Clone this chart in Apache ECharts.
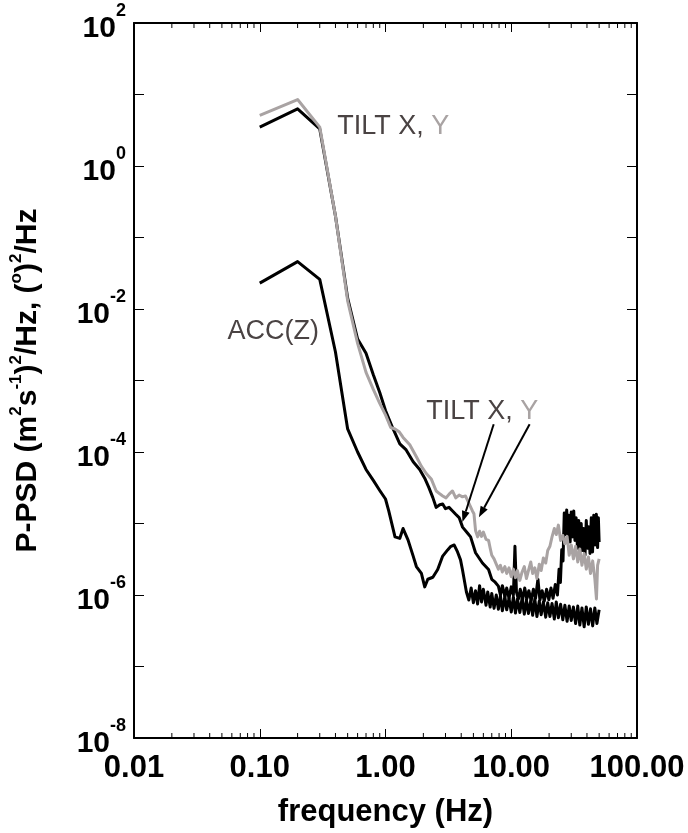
<!DOCTYPE html>
<html>
<head>
<meta charset="utf-8">
<script src="https://cdn.jsdelivr.net/npm/echarts@6/dist/echarts.min.js"></script>
<style>
	html, body { margin: 0; padding: 0; background: #fff; }
	#chart { width: 688px; height: 833px; }
</style>
</head>
<body>
<div id="chart"></div>
<script>
// values (frequency in Hz, PSD)
const tiltXFreq = [0.1, 0.2, 0.3, 0.4, 0.5, 0.6, 0.7, 0.8, 0.9, 1.0, 1.15, 1.3, 1.46, 1.66, 1.87, 2.05, 2.21, 2.38, 2.53, 2.7, 2.85, 3.0, 3.2, 3.4, 3.6, 3.85, 4.1, 4.5, 4.75, 5.2, 5.9, 6.6, 7.0, 7.45,
	7.9, 8.2, 8.5, 8.9, 9.2, 9.6, 10.0, 10.4, 10.7, 11.0, 11.4, 11.8, 12.3, 12.8, 13.3, 13.8, 14.4, 15.0, 15.6, 16.3, 16.9, 17.6, 18.3, 19.1, 19.9, 20.7, 21.5, 22.4, 23.3, 24.0, 24.6, 25.2, 25.8, 26.4, 27.0,
	27.6, 28.2, 28.8, 29.4, 30.0, 30.7, 31.4, 32.1, 32.8, 33.6, 34.4, 35.2, 36.0, 36.8, 37.7, 38.6, 39.5, 40.4, 41.3, 42.3, 43.3, 44.3, 45.3, 46.4, 47.5, 48.6, 49.3, 50.0]
const tiltXPsd = [3.5, 6.3, 3.3, 0.2, 0.0142, 0.0038, 0.0024, 0.0012, 6.8e-4, 3.8e-4, 2.1e-4, 1.3e-4, 1.07e-4, 7.3e-5, 5.7e-5, 4.3e-5, 3.2e-5, 2.3e-5, 1.68e-5, 1.83e-5, 1.87e-5, 1.61e-5, 1.68e-5, 1.51e-5, 1.36e-5, 1.21e-5, 8.9e-6, 7.3e-6, 6.5e-6, 3.9e-6, 2.8e-6, 2.27e-6, 1.66e-6, 1.51e-6,
	1.33e-6, 1.0e-6, 1.35e-6, 9.5e-7, 1.25e-6, 9.0e-7, 1.3e-6, 1.0e-6, 4.8e-6, 1.1e-6, 8.8e-7, 1.2e-6, 8.5e-7, 1.25e-6, 8.8e-7, 1.15e-6, 8.3e-7, 1.2e-6, 9.0e-7, 1.66e-6, 8.5e-7, 1.15e-6, 8.2e-7, 1.2e-6, 8.6e-7, 1.25e-6, 9.0e-7, 1.4e-6, 1.0e-6, 2.3e-6, 1.5e-6, 4.3e-6, 3.0e-6, 1.4e-5, 7.0e-6,
	1.55e-5, 6.0e-6, 1.3e-5, 5.5e-6, 1.45e-5, 6.5e-6, 1.5e-5, 5.8e-6, 1.2e-5, 4.5e-6, 1.1e-5, 4.0e-6, 1.0e-5, 4.2e-6, 8.5e-6, 3.6e-6, 1.1e-5, 4.5e-6, 9.0e-6, 3.8e-6, 1.2e-5, 4.0e-6, 1.3e-5, 5.0e-6, 1.35e-5, 4.6e-6, 1.2e-5, 5.5e-6]

const tiltYFreq = [0.1, 0.2, 0.3, 0.4, 0.5, 0.6, 0.7, 0.8, 0.9, 1.0, 1.1, 1.19, 1.29, 1.38, 1.56, 1.76, 1.93, 2.11, 2.31, 2.53, 2.7, 2.85, 3.03, 3.22, 3.41, 3.62, 3.85, 4.09, 4.32, 4.62, 4.9, 5.05,
	5.2, 5.4, 5.6, 5.8, 6.0, 6.3, 6.6, 6.8, 7.0, 7.3, 7.6, 7.9, 8.2, 8.5, 8.9, 9.2, 9.6, 10.0, 10.4, 10.8, 11.2, 11.7, 12.2, 12.7, 13.2, 13.7, 14.3, 14.8, 15.4, 16.0,
	16.7, 17.3, 18.0, 18.8, 19.5, 20.3, 21.1, 22.0, 22.8, 23.7, 24.7, 25.7, 26.7, 27.8, 28.9, 30.0, 31.2, 32.5, 33.8, 35.1, 36.5, 38.0, 39.5, 41.1, 42.7, 44.4, 46.2, 47.6, 48.6, 50.0]
const tiltYPsd = [5.1, 8.5, 3.5, 0.2, 0.013, 0.0033, 1.3e-3, 7.5e-4, 4.8e-4, 3.3e-4, 2.2e-4, 2.1e-4, 1.9e-4, 1.6e-4, 1.26e-4, 8.6e-5, 6.3e-5, 5.0e-5, 4.2e-5, 2.85e-5, 2.6e-5, 2.43e-5, 2.28e-5, 2.6e-5, 2.85e-5, 2.28e-5, 2.5e-5, 2.36e-5, 2.43e-5, 1.89e-5, 1.51e-5, 1.37e-5,
	8.0e-6, 6.5e-6, 7.8e-6, 6.6e-6, 7.6e-6, 6.0e-6, 5.8e-6, 4.5e-6, 3.6e-6, 3.2e-6, 2.7e-6, 2.3e-6, 2.6e-6, 2.1e-6, 2.5e-6, 2.0e-6, 2.4e-6, 1.8e-6, 2.3e-6, 1.75e-6, 2.2e-6, 1.6e-6, 2.1e-6, 2.5e-6, 1.7e-6, 2.2e-6, 2.9e-6, 2.0e-6, 2.4e-6, 1.7e-6,
	2.7e-6, 2.2e-6, 3.3e-6, 2.8e-6, 4.2e-6, 4.8e-6, 6.5e-6, 8.5e-6, 7.0e-6, 9.5e-6, 5.8e-6, 6.8e-6, 5.2e-6, 6.6e-6, 3.6e-6, 5.0e-6, 3.2e-6, 4.8e-6, 2.9e-6, 4.4e-6, 2.6e-6, 3.8e-6, 2.3e-6, 3.4e-6, 2.0e-6, 3.0e-6, 1.7e-6, 8.8e-7, 2.6e-6, 3.2e-6]

const accFreq = [0.1, 0.2, 0.3, 0.4, 0.5, 0.6, 0.7, 0.8, 0.9, 1.0, 1.06, 1.19, 1.3, 1.38, 1.51, 1.66, 1.76, 1.93, 2.05, 2.17, 2.38, 2.6, 2.85, 3.12, 3.31, 3.52, 3.74, 3.95, 4.09,
	4.4, 4.6, 4.8, 5.0, 5.2, 5.4, 5.6, 5.8, 6.0, 6.3, 6.5, 6.8, 7.0, 7.3, 7.6, 7.9, 8.2, 8.5, 8.9, 9.2, 9.6, 10.0, 10.4, 10.8, 11.2, 11.7, 12.2, 12.7, 13.2, 13.7, 14.3, 14.8,
	15.4, 16.0, 16.7, 17.3, 18.0, 18.8, 19.5, 20.3, 21.1, 22.0, 22.8, 23.7, 24.7, 25.7, 26.7, 27.8, 28.9, 30.0, 31.2, 32.5, 33.8, 35.1, 36.5, 38.0, 39.5, 41.1, 42.7, 44.4, 46.2, 48.0, 50.0]
const accPsd = [0.023, 0.046, 0.026, 2.5e-3, 2.1e-4, 1.0e-4, 5.7e-5, 4.0e-5, 2.9e-5, 2.2e-5, 1.51e-5, 6.5e-6, 6.2e-6, 8.5e-6, 5.9e-6, 3.5e-6, 2.5e-6, 2.0e-6, 1.3e-6, 1.66e-6, 1.77e-6, 2.27e-6, 3.5e-6, 4.27e-6, 4.8e-6, 5.0e-6, 4.0e-6, 3.1e-6, 2.27e-6,
	1.1e-6, 8.5e-7, 1.25e-6, 7.8e-7, 1.15e-6, 7.5e-7, 1.35e-6, 8.0e-7, 1.2e-6, 7.2e-7, 1.1e-6, 6.8e-7, 1.05e-6, 6.5e-7, 1.0e-6, 6.3e-7, 9.8e-7, 6.0e-7, 9.5e-7, 6.2e-7, 9.0e-7, 5.8e-7, 9.4e-7, 5.6e-7, 8.8e-7, 5.7e-7, 9.0e-7, 5.4e-7, 8.6e-7, 5.5e-7, 8.4e-7, 5.2e-7,
	8.8e-7, 5.0e-7, 8.2e-7, 5.3e-7, 8.0e-7, 4.9e-7, 7.8e-7, 5.0e-7, 7.6e-7, 4.6e-7, 8.0e-7, 4.8e-7, 7.4e-7, 4.5e-7, 7.2e-7, 4.3e-7, 7.0e-7, 4.4e-7, 6.8e-7, 4.0e-7, 7.0e-7, 3.8e-7, 6.6e-7, 3.6e-7, 6.8e-7, 3.9e-7, 6.4e-7, 3.7e-7, 6.6e-7, 4.0e-7, 6.2e-7]

// minor ticks of the frequency axis (2..9 in every decade)
const minorTickFreqs = [0.02, 0.03, 0.04, 0.05, 0.06, 0.07, 0.08, 0.09, 0.2, 0.3, 0.4, 0.5, 0.6, 0.7, 0.8, 0.9, 2, 3, 4, 5, 6, 7, 8, 9, 20, 30, 40, 50, 60, 70, 80, 90]

const FONT = '"Liberation Sans", Arial, Helvetica, sans-serif'
const GREY = '#a9a3a3'
const DARK = '#4a4343'

const pairs = function(xs, ys) {
	return xs.map(function(x, i) { return [x, ys[i]] })
}

const lineSeries = function(name, xs, ys, color) {
	return {
		name: name,
		type: 'line',
		data: pairs(xs, ys),
		showSymbol: false,
		symbol: 'none',
		lineStyle: { color: color, width: 3, join: 'round' },
		itemStyle: { color: color },
		z: 3
	}
}

const supRich = function(size) {
	return {
		b: { fontSize: size, fontWeight: 'bold', fontFamily: FONT, color: '#000', lineHeight: size + 12, verticalAlign: 'bottom' },
		s: { fontSize: Math.round(size * 0.6), fontWeight: 'bold', fontFamily: FONT, color: '#000', verticalAlign: 'top', lineHeight: Math.round(size * 0.6) + 2 }
	}
}

const xBase = {
	type: 'log',
	logBase: 10,
	min: 0.01,
	max: 100,
	interval: 1,
	splitLine: { show: false },
	axisLine: { show: true, lineStyle: { color: '#000', width: 2 } },
	axisTick: { show: true, inside: true, length: 9, lineStyle: { color: '#000', width: 1 } }
}

const yBase = {
	type: 'log',
	logBase: 10,
	min: 1e-8,
	max: 100,
	interval: 1,
	splitLine: { show: false },
	axisLine: { show: true, lineStyle: { color: '#000', width: 2 } },
	axisTick: { show: true, inside: true, length: 10, lineStyle: { color: '#000', width: 1 } }
}

const option = {
	animation: false,
	backgroundColor: '#fff',
	grid: { left: 127, top: 23, width: 510, height: 729, containLabel: false },
	xAxis: [
		Object.assign({}, xBase, {
			position: 'bottom',
			name: 'frequency (Hz)',
			nameLocation: 'middle',
			nameGap: 59,
			nameTextStyle: { fontSize: 31, fontWeight: 'bold', fontFamily: FONT, color: '#000' },
			axisLabel: {
				show: true,
				margin: 15,
				fontSize: 31,
				fontWeight: 'bold',
				fontFamily: FONT,
				color: '#000',
				showMinLabel: true,
				showMaxLabel: true,
				hideOverlap: false,
				formatter: function(v) { return Number(v).toFixed(2) }
			}
		}),
		Object.assign({}, xBase, { position: 'top', axisLabel: { show: false } })
	],
	yAxis: [
		Object.assign({}, yBase, {
			position: 'left',
			name: 'P-PSD (m{s|2}s{s|-1}){s|2}/Hz, ({s|o}){s|2}/Hz',
			nameLocation: 'middle',
			nameGap: 86,
			nameRotate: 90,
			nameTextStyle: {
				fontSize: 30,
				fontWeight: 'bold',
				fontFamily: FONT,
				color: '#000',
				lineHeight: 40,
				rich: {
					s: { fontSize: 17, fontWeight: 'bold', fontFamily: FONT, color: '#000', verticalAlign: 'top', lineHeight: 19 }
				}
			},
			axisLabel: {
				show: true,
				margin: 8,
				showMinLabel: true,
				showMaxLabel: true,
				formatter: function(v) {
					let e = Math.round(Math.log10(v))
					if (e % 2 !== 0) return ''
					return '{b|10}{s|' + e + '}'
				},
				rich: supRich(30)
			}
		}),
		Object.assign({}, yBase, { position: 'right', axisLabel: { show: false } })
	],
	series: [
		lineSeries('TILT X', tiltXFreq, tiltXPsd, '#000'),
		lineSeries('TILT Y', tiltYFreq, tiltYPsd, GREY),
		lineSeries('ACC(Z)', accFreq, accPsd, '#000'),
		{
			name: 'minor ticks',
			type: 'custom',
			silent: true,
			clip: false,
			data: minorTickFreqs.map(function(f) { return [f, 1] }),
			encode: { x: 0, y: 1 },
			renderItem: function(params, api) {
				let x = api.coord([api.value(0), 1])[0]
				let cs = params.coordSys
				let bottom = cs.y + cs.height
				return {
					type: 'group',
					children: [
						{ type: 'line', shape: { x1: x, y1: bottom, x2: x, y2: bottom - 5 }, style: { stroke: '#000', lineWidth: 1 } },
						{ type: 'line', shape: { x1: x, y1: cs.y, x2: x, y2: cs.y + 5 }, style: { stroke: '#000', lineWidth: 1 } }
					]
				}
			},
			z: 1
		}
	]
}

// annotation anchors in data units [frequency, PSD]
const labels = [
	{ at: [0.413, 3.58], text: '{a|TILT X, }{b|Y}' },
	{ at: [0.0553, 4.9e-3], text: '{a|ACC(Z)}' },
	{ at: [2.11, 3.7e-4], text: '{a|TILT X, }{b|Y}' }
]
const arrows = [
	{ from: [7.25, 2.44e-4], to: [4.09, 1.05e-5] },
	{ from: [14.0, 2.44e-4], to: [5.53, 1.22e-5] }
]

const dom = document.getElementById('chart')
const myChart = echarts.init(dom, null, { renderer: 'canvas' })
myChart.setOption(option)

const toPx = function(p) {
	return myChart.convertToPixel({ seriesIndex: 0 }, p)
}

let graphics = []
labels.forEach(function(l) {
	let p = toPx(l.at)
	graphics.push({
		type: 'text',
		x: p[0],
		y: p[1],
		style: {
			text: l.text,
			fontSize: 27,
			fontFamily: FONT,
			verticalAlign: 'middle',
			align: 'left',
			rich: {
				a: { fill: DARK, fontSize: 27, fontFamily: FONT },
				b: { fill: GREY, fontSize: 27, fontFamily: FONT }
			}
		},
		z: 10
	})
})
arrows.forEach(function(a) {
	let p0 = toPx(a.from)
	let p1 = toPx(a.to)
	let ang = Math.atan2(p1[1] - p0[1], p1[0] - p0[0])
	let len = 11
	let half = 4
	let bx = p1[0] - len * Math.cos(ang)
	let by = p1[1] - len * Math.sin(ang)
	graphics.push({
		type: 'line',
		shape: { x1: p0[0], y1: p0[1], x2: bx, y2: by },
		style: { stroke: '#000', lineWidth: 2 },
		z: 10
	})
	graphics.push({
		type: 'polygon',
		shape: {
			points: [
				[p1[0], p1[1]],
				[bx + half * Math.sin(ang), by - half * Math.cos(ang)],
				[bx - half * Math.sin(ang), by + half * Math.cos(ang)]
			]
		},
		style: { fill: '#000' },
		z: 10
	})
})
myChart.setOption({ graphic: graphics })
</script>
</body>
</html>
